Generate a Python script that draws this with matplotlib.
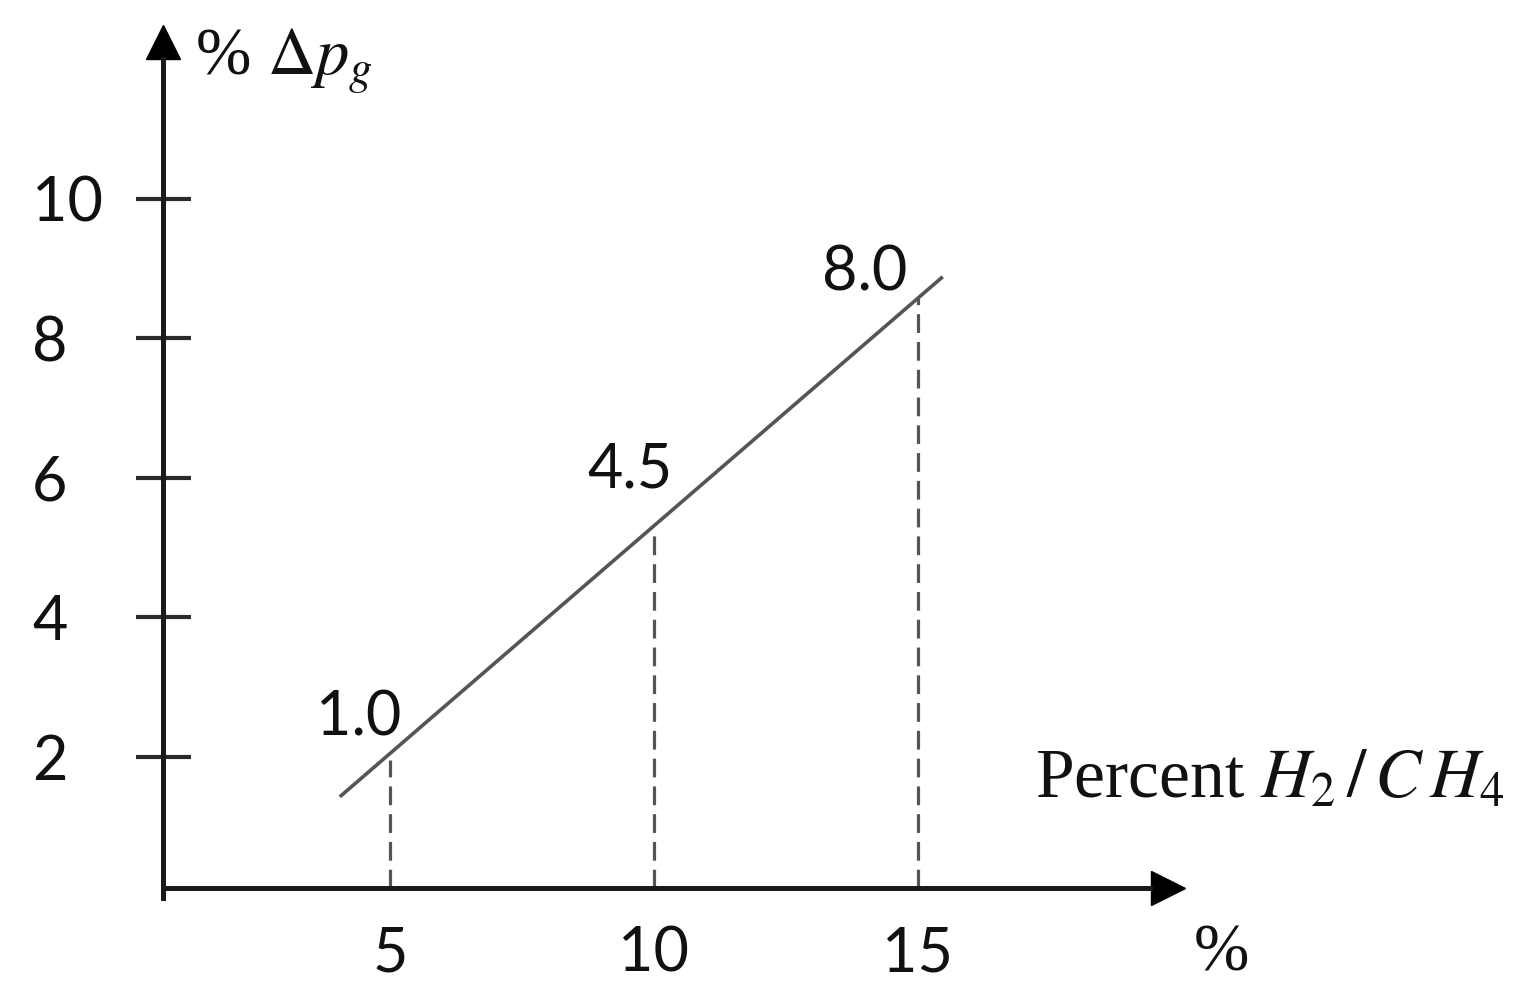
import matplotlib
matplotlib.use("Agg")
import matplotlib.pyplot as plt

# data
pct_ticks = [5, 10, 15]
dp_ticks = [2, 4, 6, 8, 10]
line_x = [4.05, 15.47]
line_y = [1.43, 8.88]
drop_tops = [1.96, 5.2, 8.6]
point_labels = ["1.0", "4.5", "8.0"]

plt.rcParams['mathtext.fontset'] = 'stix'
plt.rcParams['lines.scale_dashes'] = False

num_font = 'Lato'
serif = 'Liberation Serif'

fig = plt.figure(figsize=(15.14, 9.99), dpi=100)
ax = fig.add_axes([0, 0, 1, 1])
ax.set_xlim(-2.386, 26.29)
ax.set_ylim(-1.467, 12.845)

x0, y0 = 0.70, 0.12  # where the axes cross
for s in ['top', 'right']:
    ax.spines[s].set_visible(False)
ax.spines['left'].set_position(('data', x0))
ax.spines['bottom'].set_position(('data', y0))
ax.spines['left'].set_bounds(-0.02, 12.0)
ax.spines['bottom'].set_bounds(x0, 19.4)
for s in ['left', 'bottom']:
    ax.spines[s].set_linewidth(3.6)
    ax.spines[s].set_color('#1a1a1a')

# arrow heads
ax.plot(x0, 12.24, '^', color='black', ms=25, clip_on=False)
ax.plot(19.73, y0, '>', color='black', ms=25, clip_on=False)

ax.set_yticks(dp_ticks)
ax.set_yticklabels([str(v) for v in dp_ticks])
ax.tick_params(axis='y', direction='inout', length=39.6, width=3, color='#2a2a2a',
               pad=74.5, labelsize=44, labelcolor='#111111')
for lab in ax.get_yticklabels():
    lab.set_ha('left')
    lab.set_family(num_font)

ax.set_xticks(pct_ticks)
ax.set_xticklabels([str(v) for v in pct_ticks])
ax.tick_params(axis='x', length=0, pad=26.6, labelsize=44, labelcolor='#111111')
for lab in ax.get_xticklabels():
    lab.set_family(num_font)

ax.plot(line_x, line_y, color='#555555', lw=2.6, solid_capstyle='butt')

for x, top in zip(pct_ticks, drop_tops):
    ax.plot([x, x], [y0, top], color='#555555', lw=2.3, dashes=(13.5, 6.5))

label_pos = [(4.41, 2.315), (9.55, 5.868), (14.0, 8.69)]
for (px, py), txt in zip(label_pos, point_labels):
    ax.text(px, py, txt, ha='center', va='baseline', fontsize=44,
            family=num_font, color='#111111')

fig.text(0.1288, 0.925, r'% $\Delta p_g$', ha='left', va='baseline',
         fontsize=48, family=serif, color='#111111')
fig.text(0.6836, 0.2012, r'Percent $H_2\,/\,C\,H_4$', ha='left', va='baseline',
         fontsize=50, family=serif, color='#111111')
fig.text(0.807, 0.029, '%', ha='center', va='baseline',
         fontsize=48, family=serif, color='#111111')

fig.savefig('out.png', dpi=100)
